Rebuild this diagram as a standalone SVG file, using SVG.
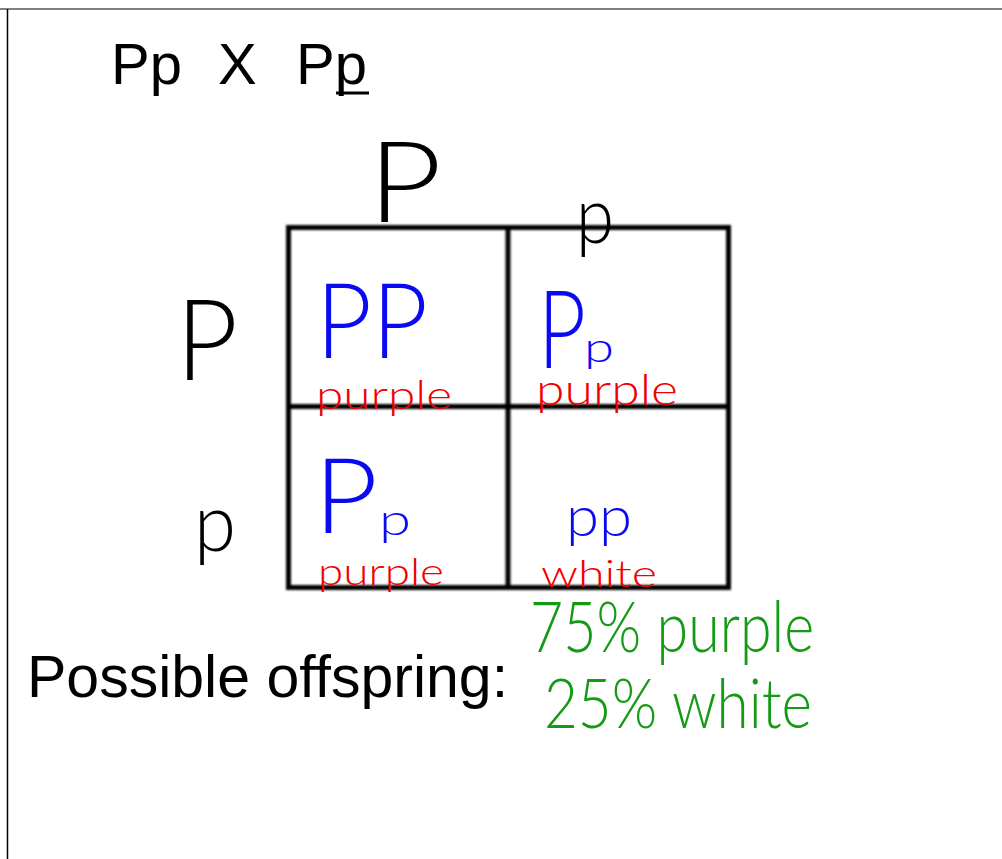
<svg xmlns="http://www.w3.org/2000/svg" width="1002" height="859" viewBox="0 0 1002 859">
<style>
.print{font-family:"Liberation Sans",Arial,sans-serif;fill:#000}
.hand{font-family:Lato,"Open Sans","DejaVu Sans",sans-serif;font-weight:300}
.blk{fill:#000}
.blue{fill:#0a0af0}
.red{fill:#f00000}
.green{fill:#149a14}
.grid{fill:none;stroke:#000;stroke-width:5}
</style>
<defs>
<filter id="soft" x="-5%" y="-5%" width="110%" height="110%"><feGaussianBlur stdDeviation="0.9"/></filter>
</defs>
<rect width="1002" height="859" fill="#fff"/>
<g id="frame">
<line x1="0" y1="9" x2="1002" y2="9" stroke="#808080" stroke-width="2"/>
<line x1="7.5" y1="9" x2="7.5" y2="859" stroke="#000" stroke-width="1.5"/>
</g>
<g id="cross">
<text class="print" x="111" y="84" font-size="58">Pp</text>
<text class="print" x="218" y="84" font-size="58">X</text>
<text class="print" x="296" y="84" font-size="58">Pp</text>
<line x1="336" y1="93" x2="369" y2="93" stroke="#000" stroke-width="3"/>
</g>
<g id="grid" filter="url(#soft)">
<rect class="grid" x="288.5" y="227.5" width="440" height="360"/>
<line class="grid" x1="508" y1="227" x2="508" y2="588"/>
<line class="grid" x1="288" y1="406.5" x2="729" y2="406.5"/>
</g>
<g id="parent-labels">
<text class="hand blk" x="368" y="222" font-size="112" textLength="74" lengthAdjust="spacingAndGlyphs">P</text>
<text class="hand blk" x="576" y="243" font-size="78" textLength="38" lengthAdjust="spacingAndGlyphs">p</text>
<text class="hand blk" x="176" y="380" font-size="112" textLength="62" lengthAdjust="spacingAndGlyphs">P</text>
<text class="hand blk" x="194" y="551" font-size="80" textLength="42" lengthAdjust="spacingAndGlyphs">p</text>
</g>
<g id="cell-PP">
<text class="hand blue" x="316" y="358" font-size="104" textLength="112" lengthAdjust="spacingAndGlyphs">PP</text>
<text class="hand red" x="316" y="409" font-size="40" textLength="136" lengthAdjust="spacingAndGlyphs">purple</text>
</g>
<g id="cell-Pp-1">
<text class="hand blue" x="538" y="368" font-size="108" textLength="48" lengthAdjust="spacingAndGlyphs">P</text>
<text class="hand blue" x="584" y="362" font-size="42" textLength="30" lengthAdjust="spacingAndGlyphs">p</text>
<text class="hand red" x="536" y="405" font-size="44" textLength="142" lengthAdjust="spacingAndGlyphs">purple</text>
</g>
<g id="cell-Pp-2">
<text class="hand blue" x="314" y="533" font-size="104" textLength="64" lengthAdjust="spacingAndGlyphs">P</text>
<text class="hand blue" x="379" y="535" font-size="44" textLength="32" lengthAdjust="spacingAndGlyphs">p</text>
<text class="hand red" x="318" y="585" font-size="38" textLength="126" lengthAdjust="spacingAndGlyphs">purple</text>
</g>
<g id="cell-pp">
<text class="hand blue" x="566" y="536" font-size="56" textLength="66" lengthAdjust="spacingAndGlyphs">pp</text>
<text class="hand red" x="541" y="587" font-size="38" textLength="116" lengthAdjust="spacingAndGlyphs">white</text>
</g>
<g id="offspring">
<text class="print" x="27" y="697" font-size="59">Possible offspring:</text>
<text class="hand green" x="530" y="652" font-size="70" textLength="284" lengthAdjust="spacingAndGlyphs">75% purple</text>
<text class="hand green" x="544" y="728" font-size="68" textLength="268" lengthAdjust="spacingAndGlyphs">25% white</text>
</g>
</svg>
